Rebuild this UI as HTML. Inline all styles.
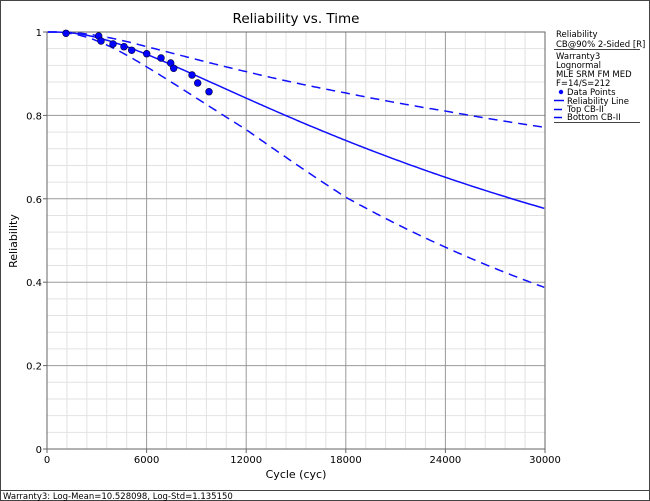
<!DOCTYPE html>
<html><head><meta charset="utf-8"><style>
body{margin:0;background:#fff;}
svg{display:block;font-family:"DejaVu Sans","Liberation Sans",sans-serif;}
</style></head><body>
<svg id="s" width="650" height="501" viewBox="0 0 650 501" xmlns="http://www.w3.org/2000/svg">
<rect x="0.5" y="0.5" width="649" height="500" fill="#fff" stroke="#444"/>
<line x1="0" y1="490.5" x2="650" y2="490.5" stroke="#444"/>
<text x="3" y="499" font-size="8.5" fill="#000">Warranty3: Log-Mean=10.528098, Log-Std=1.135150</text>
<text x="296" y="23" font-size="13.5" text-anchor="middle" fill="#000">Reliability vs. Time</text>
<g id="grid"></g>
<g id="series"></g>
<text x="296" y="478" font-size="11" text-anchor="middle">Cycle (cyc)</text>
<text transform="translate(17,241) rotate(-90)" font-size="11" text-anchor="middle">Reliability</text>
<g font-size="8.5" fill="#000">
<text x="556" y="37">Reliability</text>
<text x="556" y="47">CB@90% 2-Sided [R]</text>
<line x1="554" y1="49.5" x2="640" y2="49.5" stroke="#444"/>
<text x="556" y="59">Warranty3</text>
<text x="556" y="68">Lognormal</text>
<text x="556" y="77">MLE SRM FM MED</text>
<text x="556" y="86">F=14/S=212</text>
<circle cx="561" cy="92" r="2.2" fill="#00f"/>
<text x="567" y="95">Data Points</text>
<line x1="554" y1="100.5" x2="564" y2="100.5" stroke="#00f" stroke-width="1.5"/>
<text x="567" y="104">Reliability Line</text>
<line x1="554" y1="109.5" x2="562" y2="109.5" stroke="#00f" stroke-width="1.5"/>
<text x="567" y="112">Top CB-II</text>
<line x1="554" y1="117.5" x2="562" y2="117.5" stroke="#00f" stroke-width="1.5"/>
<text x="567" y="120">Bottom CB-II</text>
<line x1="554" y1="122.5" x2="640" y2="122.5" stroke="#444"/>
</g>
</svg>
<script>
var X0=47,X1=545,Y0=32,Y1=449;
function px(t){return X0+(t/30000)*(X1-X0);}
function py(r){return Y1-r*(Y1-Y0);}
var ns="http://www.w3.org/2000/svg";
function el(tag,a,p){var e=document.createElementNS(ns,tag);for(var k in a)e.setAttribute(k,a[k]);(p||document.getElementById('grid')).appendChild(e);return e;}
for(var i=0;i<=25;i++){var x=px(i*1200);if(i%5)el('line',{x1:x,y1:Y0,x2:x,y2:Y1,stroke:'#e2e2e2'});}
for(var i=0;i<=25;i++){var y=py(i*0.04);if(i%5)el('line',{x1:X0,y1:y,x2:X1,y2:y,stroke:'#e2e2e2'});}
for(var i=1;i<5;i++){var x=px(i*6000);el('line',{x1:x,y1:Y0,x2:x,y2:Y1,stroke:'#999'});}
for(var i=1;i<5;i++){var y=py(i*0.2);el('line',{x1:X0,y1:y,x2:X1,y2:y,stroke:'#999'});}
el('rect',{x:X0,y:Y0,width:X1-X0,height:Y1-Y0,fill:'none',stroke:'#666'});
for(var i=0;i<=5;i++){var x=px(i*6000);el('line',{x1:x,y1:Y1,x2:x,y2:Y1+4,stroke:'#666'});
 var t=el('text',{x:x,y:Y1+14,'font-size':10,'text-anchor':'middle'});t.textContent=i*6000;}
var lab=['0','0.2','0.4','0.6','0.8','1'];
for(var i=0;i<=5;i++){var y=py(i*0.2);el('line',{x1:X0-4,y1:y,x2:X0,y2:y,stroke:'#666'});
 var t=el('text',{x:X0-5,y:y+4,'font-size':10,'text-anchor':'end'});t.textContent=lab[i];}
function erf(x){var s=x<0?-1:1;x=Math.abs(x);var t=1/(1+0.3275911*x);var y=1-(((((1.061405429*t-1.453152027)*t)+1.421413741)*t-0.284496736)*t+0.254829592)*t*Math.exp(-x*x);return s*y;}
function Phi(z){return 0.5*(1+erf(z/Math.SQRT2));}
var mu=10.528098,sg=1.13515;
function zf(t){return (Math.log(t)-mu)/sg;}
var kt=[100,6000,12000,18000,24000,30000],du=[0.15,0.2,0.31,0.41,0.49,0.55],dl=[0.15,0.23,0.275,0.38,0.43,0.48];
function interp(t,arr){for(var i=0;i<kt.length-1;i++){if(t<=kt[i+1]){var f=(t-kt[i])/(kt[i+1]-kt[i]);if(f<0)f=0;return arr[i]+f*(arr[i+1]-arr[i]);}}return arr[arr.length-1];}
var s=document.getElementById('series');
function path(fn,dash){var d='';for(var t=50;t<=30000;t+=100){var r=fn(t);d+=(d?'L':'M')+px(t).toFixed(1)+','+py(r).toFixed(1);}
 var a={d:d,fill:'none',stroke:'#1010ff','stroke-width':1.5};if(dash)a['stroke-dasharray']='9,6';el('path',a,s);}
path(function(t){return 1-Phi(zf(t));});
path(function(t){return 1-Phi(zf(t)-interp(t,du));},1);
path(function(t){return 1-Phi(zf(t)+interp(t,dl));},1);
var pts=[[66,33.3],[98.7,36],[101,41],[113,44],[124,46.7],[131.7,50.3],[146.7,53.7],[161,58],[170.7,63],[173.7,68.3],[192,75],[197.7,83],[209,91.7]];
pts.forEach(function(p){el('circle',{cx:p[0],cy:p[1],r:3.4,fill:'#0000ff',stroke:'#000033','stroke-width':0.6},s);});
</script>
</body></html>
